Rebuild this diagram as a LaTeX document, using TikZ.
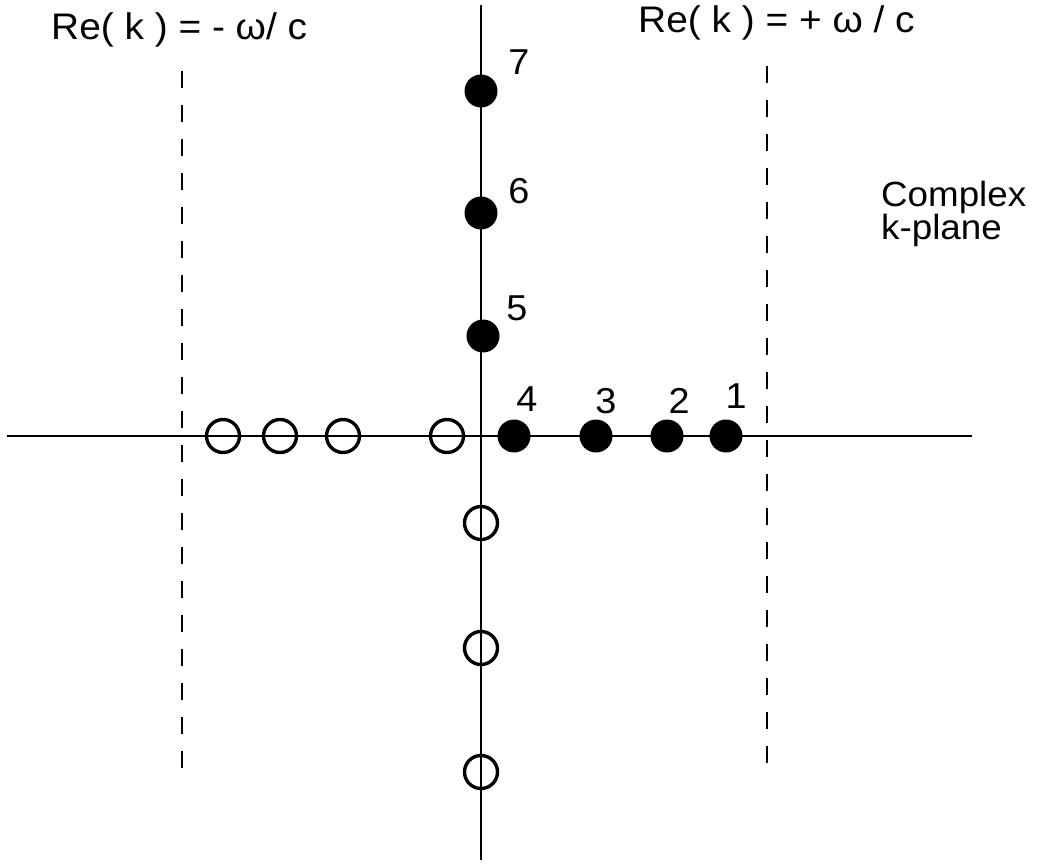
\documentclass[tikz,border=0pt]{standalone}
\usepackage{fontspec}
\setmainfont{Liberation Sans}[FakeStretch=1.05]
\begin{document}
\begin{tikzpicture}[x=1pt,y=-1pt,
  axis/.style={line width=2pt},
  asym/.style={line width=2pt,dash pattern=on 17pt off 17pt},
  pole/.style={circle,fill=black,minimum size=33pt,inner sep=0pt},
  zero/.style={circle,draw=black,line width=3.4pt,minimum size=33pt,inner sep=0pt},
  lbl/.style={font=\fontsize{36}{36}\selectfont,inner sep=0pt,anchor=base},
  ttl/.style={font=\fontsize{37}{37}\selectfont,inner sep=0pt,anchor=base west}]
\useasboundingbox (0,0) rectangle (1040,866);
% axes
\coordinate (hl) at (7,436);
\coordinate (hr) at (972,436);
\coordinate (vt) at (481,5);
\coordinate (vb) at (481,860);
\draw[axis] (hl) -- (hr);
\draw[axis] (vt) -- (vb);
% asymptotes
\coordinate (la) at (182,71);
\coordinate (lb) at (182,768);
\coordinate (ra) at (767,66);
\coordinate (rb) at (767,763);
\draw[asym] (la) -- (lb);
\draw[asym] (ra) -- (rb);
% open circles
\node[zero] (z1) at (223,436) {};
\node[zero] (z2) at (280,436) {};
\node[zero] (z3) at (343,436) {};
\node[zero] (z4) at (447,436) {};
\node[zero] (z5) at (481,523) {};
\node[zero] (z6) at (481,648) {};
\node[zero] (z7) at (481,772) {};
% filled circles
\node[pole] (p7) at (481,91) {};
\node[pole] (p6) at (481,213) {};
\node[pole] (p5) at (483,336) {};
\node[pole] (p4) at (514,436) {};
\node[pole] (p3) at (596,436) {};
\node[pole] (p2) at (667,436) {};
\node[pole] (p1) at (726,436) {};
% numbers
\node[lbl] (n7) at (519,75) {7};
\node[lbl] (n6) at (519,204) {6};
\node[lbl] (n5) at (517,320) {5};
\node[lbl] (n4) at (527,411) {4};
\node[lbl] (n3) at (606,413) {3};
\node[lbl] (n2) at (679,413) {2};
\node[lbl] (n1) at (736,408) {1};
% titles
\node[ttl] (tl) at (51,40) {Re( k ) = - ω/ c};
\node[ttl] (tr) at (638,33) {Re( k ) = + ω / c};
\node[font=\fontsize{35}{29}\selectfont,inner sep=0pt,anchor=base west,align=left] (cx) at (881,240) {Complex\\k-plane};
\end{tikzpicture}
\end{document}
